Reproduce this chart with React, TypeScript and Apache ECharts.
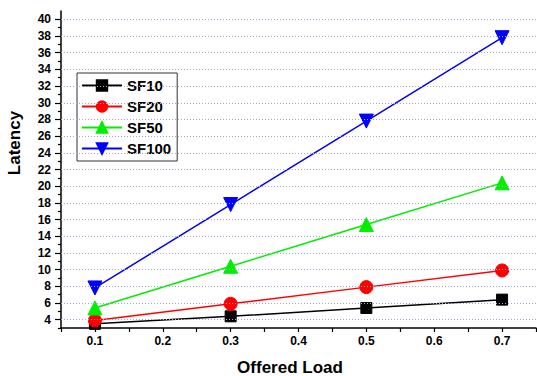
import React, { useEffect, useRef } from "react";
import * as echarts from "echarts";

const loads = [0.1, 0.3, 0.5, 0.7];
const sf10 = [3.5, 4.4, 5.4, 6.4];
const sf20 = [3.9, 5.9, 7.9, 9.9];
const sf50 = [5.4, 10.4, 15.4, 20.4];
const sf100 = [7.8, 17.8, 27.8, 37.8];
const yMajorTicks = [4, 6, 8, 10, 12, 14, 16, 18, 20, 22, 24, 26, 28, 30, 32, 34, 36, 38, 40];
const yMinorTicks = [3, 5, 7, 9, 11, 13, 15, 17, 19, 21, 23, 25, 27, 29, 31, 33, 35, 37, 39];
const xLabels = [0.1, 0.2, 0.3, 0.4, 0.5, 0.6, 0.7];

const FONT = "Arial, 'Liberation Sans', sans-serif";
const INV_TRI = "path://M0,0 L10,0 L5,9 Z";

export default function App() {
  const ref = useRef<HTMLDivElement>(null);
  useEffect(() => {
    const chart = echarts.init(ref.current!, null, { renderer: "svg" });
    const mk = (name: string, data: number[], color: string, symbol: string, size: number) => ({
      name,
      type: "line",
      data: loads.map((x, i) => [x, data[i]]),
      symbol,
      symbolSize: size,
      itemStyle: { color, borderColor: color, borderWidth: 1, opacity: 1 },
      lineStyle: { color, width: 1.5 },
      emphasis: { disabled: true },
      z: 3,
    });
    chart.setOption({
      animation: false,
      backgroundColor: "#fff",
      grid: { left: 61, right: 1, top: 11, bottom: 48 },
      legend: {
        orient: "vertical",
        left: 77,
        top: 73,
        itemWidth: 40,
        itemHeight: 13,
        itemGap: 6,
        padding: [5, 6, 5, 4],
        borderColor: "#333",
        borderWidth: 1,
        backgroundColor: "#fff",
        textStyle: { fontFamily: FONT, fontWeight: "bold", fontSize: 15, color: "#000" },
        data: ["SF10", "SF20", "SF50", "SF100"],
      },
      xAxis: {
        type: "value",
        min: 0.05,
        max: 0.75,
        interval: 0.05,
        axisLine: { show: true, lineStyle: { color: "#000", width: 1.5 } },
        axisTick: { show: true, length: 4, lineStyle: { color: "#000", width: 1.2 } },
        axisLabel: {
          customValues: xLabels,
          formatter: (v: number) => v.toFixed(1),
          fontFamily: FONT,
          fontWeight: "bold",
          fontSize: 12,
          color: "#000",
          margin: 7,
        },
        splitLine: { show: false },
      },
      yAxis: [
        {
          type: "value",
          min: 3,
          max: 41,
          interval: 1,
          axisLine: { show: true, lineStyle: { color: "#000", width: 1.5 } },
          axisTick: { show: true, customValues: yMajorTicks, length: 6, lineStyle: { color: "#000", width: 1.2 } },
          axisLabel: {
            customValues: yMajorTicks,
            fontFamily: FONT,
            fontWeight: "bold",
            fontSize: 12,
            color: "#000",
            margin: 10,
          },
          splitLine: { show: false },
        },
        {
          type: "value",
          position: "left",
          min: 3,
          max: 41,
          interval: 1,
          axisLine: { show: false },
          axisTick: { show: true, customValues: yMinorTicks, length: 3, lineStyle: { color: "#000", width: 1.2 } },
          axisLabel: { show: false },
          splitLine: { show: false },
        },
      ],
      graphic: [
        {
          type: "text",
          x: 14,
          y: 143,
          rotation: Math.PI / 2,
          style: {
            text: "Latency",
            font: `bold 17px ${FONT}`,
            fill: "#000",
            align: "center",
            verticalAlign: "middle",
          },
        },
        {
          type: "text",
          x: 290,
          y: 367,
          style: {
            text: "Offered Load",
            font: `bold 17px ${FONT}`,
            fill: "#000",
            align: "center",
            verticalAlign: "middle",
          },
        },
      ],
      series: [
        {
          type: "line",
          data: [],
          silent: true,
          markLine: {
            silent: true,
            symbol: "none",
            label: { show: false },
            lineStyle: { color: "#a8a8d8", type: [1, 2], width: 1 },
            data: yMajorTicks.map((v) => ({ yAxis: v })),
          },
          z: 1,
        },
        mk("SF10", sf10, "#000000", "rect", 11),
        mk("SF20", sf20, "#ff0000", "circle", 13),
        mk("SF50", sf50, "#00ee00", "triangle", 14),
        mk("SF100", sf100, "#0000ff", INV_TRI, 14),
      ],
    });
    return () => chart.dispose();
  }, []);
  return <div ref={ref} style={{ position: "absolute", left: 0, top: 0, width: 537, height: 376 }} />;
}
